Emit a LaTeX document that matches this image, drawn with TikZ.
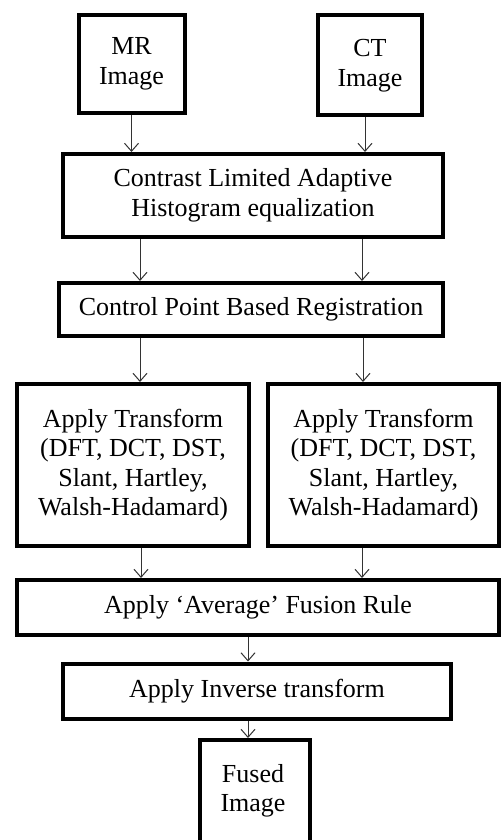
\documentclass[tikz,border=0pt]{standalone}
\usepackage{fontspec}
\setmainfont{Liberation Serif}
\usetikzlibrary{arrows.meta}
\begin{document}
\begin{tikzpicture}[x=0.5pt,y=-0.5pt,
  box/.style={draw=black,line width=2pt,rectangle,inner sep=0pt,align=center,
    font=\fontsize{13}{14.75}\selectfont},
  conn/.style={draw=black!80,line width=0.5pt,-{Straight Barb[length=4pt,width=7pt,line width=0.5pt]}}]
\useasboundingbox (0,0) rectangle (501,840);
\node[box,minimum width=53pt,minimum height=49pt] (mr) at (131.5,64) {MR\\Image};
\node[box,minimum width=52pt,minimum height=50pt] (ct) at (370,65.5) {CT\\Image};
\node[box,minimum width=190pt,minimum height=41.5pt] (cl) at (253,195.5) {Contrast Limited Adaptive\\Histogram equalization};
\node[box,minimum width=192pt,minimum height=26.5pt] (cp) at (251,309.5) {Control Point Based Registration};
\node[box,minimum width=116pt,minimum height=81pt] (tl) at (133,465) {Apply Transform\\(DFT, DCT, DST,\\Slant, Hartley,\\Walsh-Hadamard)};
\node[box,minimum width=115.5pt,minimum height=81pt] (tr) at (383.5,465) {Apply Transform\\(DFT, DCT, DST,\\Slant, Hartley,\\Walsh-Hadamard)};
\node[box,minimum width=241pt,minimum height=27.5pt] (fu) at (258,607.5) {Apply `Average' Fusion Rule};
\node[box,minimum width=194pt,minimum height=27.5pt] (iv) at (257,691) {Apply Inverse transform};
\node[box,minimum width=55pt,minimum height=52pt] (fi) at (255,792) {};
\node[font=\fontsize{13}{14.75}\selectfont,align=center] (fit) at (253,791) {Fused\\Image};
\draw[conn] (mr.south) -- (mr.south |- cl.north);
\draw[conn] (ct.south -| 365,0) -- (365,0 |- cl.north);
\draw[conn] (cl.south -| 140,0) -- (140,0 |- cp.north);
\draw[conn] (cl.south -| 362,0) -- (362,0 |- cp.north);
\draw[conn] (cp.south -| 140,0) -- (140,0 |- tl.north);
\draw[conn] (cp.south -| 363,0) -- (363,0 |- tr.north);
\draw[conn] (tl.south -| 141,0) -- (141,0 |- fu.north);
\draw[conn] (tr.south -| 362,0) -- (362,0 |- fu.north);
\draw[conn] (fu.south -| 248,0) -- (248,0 |- iv.north);
\draw[conn] (iv.south -| 248,0) -- (248,0 |- fi.north);
\end{tikzpicture}
\end{document}
